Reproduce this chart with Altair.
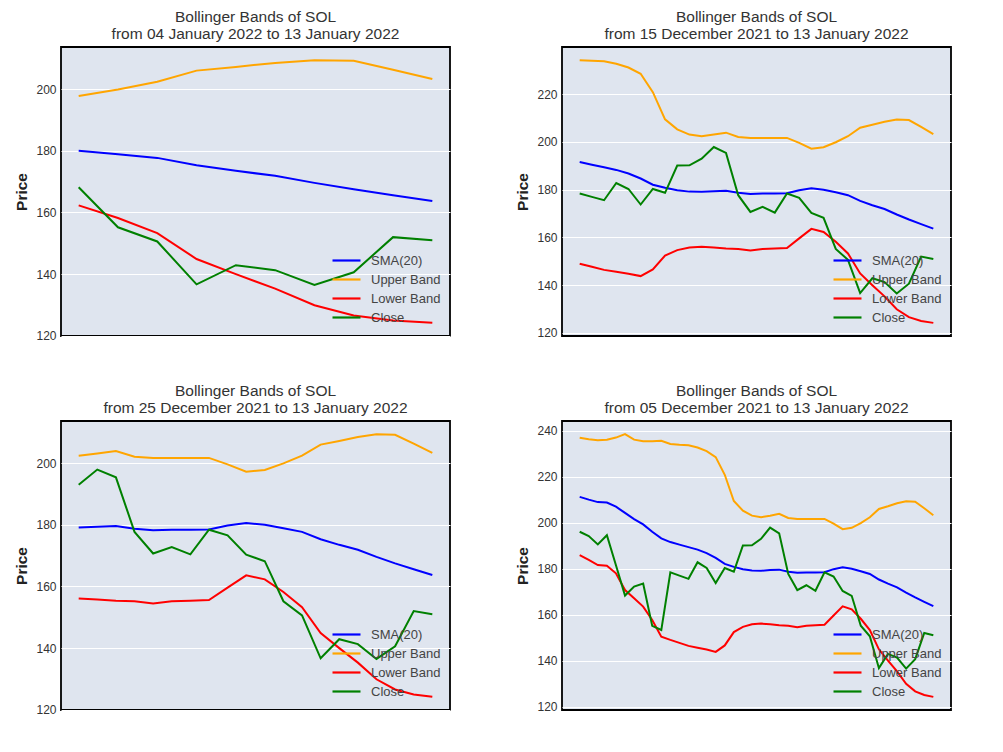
import altair as alt
import pandas as pd

# Daily data, 05 Dec 2021 .. 13 Jan 2022 (40 days)
dates = pd.date_range("2021-12-05", "2022-01-13", freq="D")

close = [196.1, 194.2, 190.6, 194.6, 181.5, 168.3, 172.2, 173.5, 155.1, 153.3,
         178.4, 177.0, 175.6, 182.8, 180.3, 173.8, 180.3, 178.7, 190.1, 190.2,
         193.0, 197.9, 195.4, 177.7, 170.7, 172.8, 170.4, 178.4, 176.6, 170.3,
         168.2, 155.2, 150.6, 136.7, 142.9, 141.3, 136.5, 140.6, 152.0, 151.0]

sma20 = [211.3, 210.1, 209.0, 208.8, 207.0, 204.3, 201.6, 199.3, 196.1, 193.2,
         191.6, 190.5, 189.4, 188.3, 186.8, 184.7, 182.1, 180.8, 179.8, 179.2,
         179.1, 179.4, 179.6, 178.7, 178.2, 178.4, 178.4, 178.5, 179.8, 180.6,
         180.0, 178.9, 177.7, 175.3, 173.5, 171.9, 169.6, 167.5, 165.6, 163.7]

upper = [237.0, 236.4, 235.9, 236.2, 237.1, 238.6, 236.2, 235.5, 235.5, 235.7,
         234.3, 234.0, 233.8, 232.8, 231.2, 228.6, 220.9, 209.5, 205.3, 203.1,
         202.4, 203.1, 203.9, 202.1, 201.7, 201.7, 201.7, 201.7, 199.6, 197.2,
         197.8, 199.9, 202.4, 206.0, 207.2, 208.5, 209.4, 209.2, 206.3, 203.3]

lower = [185.9, 183.8, 181.6, 181.3, 178.0, 170.7, 167.1, 163.5, 157.7, 150.4,
         149.0, 147.7, 146.4, 145.6, 144.8, 143.8, 146.6, 152.4, 154.7, 155.8,
         156.1, 155.8, 155.4, 155.2, 154.5, 155.2, 155.4, 155.6, 159.6, 163.6,
         162.3, 158.2, 153.3, 144.9, 140.0, 135.3, 129.9, 126.6, 125.0, 124.2]

series_names = ["SMA(20)", "Upper Band", "Lower Band", "Close"]
series_colors = ["blue", "orange", "red", "green"]
panel_starts = ["2022-01-04", "2021-12-15", "2021-12-25", "2021-12-05"]
tick_values = [100, 120, 140, 160, 180, 200, 220, 240, 260]

FONT = "Liberation Sans"
BG = "#dfe5ef"

base = pd.DataFrame({"date": dates, "SMA(20)": sma20, "Upper Band": upper,
                     "Lower Band": lower, "Close": close})


def panel(start):
    sub = base[base["date"] >= pd.Timestamp(start)].reset_index(drop=True)
    sub["idx"] = range(len(sub))
    n = len(sub)
    long = sub.melt(id_vars=["date", "idx"], value_vars=series_names,
                    var_name="series", value_name="price")
    lo, hi = long["price"].min(), long["price"].max()
    pad = 0.05 * (hi - lo)
    ydom = [lo - pad, hi + pad]
    xdom = [-0.05 * (n - 1), (n - 1) * 1.05]
    ticks = [t for t in tick_values if ydom[0] <= t <= ydom[1]]
    d1 = sub["date"].iloc[0].strftime("%d %B %Y")
    d2 = sub["date"].iloc[-1].strftime("%d %B %Y")
    ch = alt.Chart(long).mark_line(strokeWidth=2, clip=True).encode(
        x=alt.X("idx:Q", scale=alt.Scale(domain=xdom, nice=False, zero=False), axis=None),
        y=alt.Y("price:Q", scale=alt.Scale(domain=ydom, nice=False, zero=False),
                axis=alt.Axis(title="Price", values=ticks, grid=True, gridColor="white",
                              gridWidth=1.2, ticks=False, domain=False, labelPadding=5,
                              labelFontSize=12, labelFont=FONT, labelColor="#333333",
                              titleFont=FONT, titleFontSize=15.5, titleFontWeight="bold",
                              titleColor="#222222", titlePadding=6)),
        color=alt.Color("series:N",
                        scale=alt.Scale(domain=series_names, range=series_colors),
                        legend=alt.Legend(title=None, orient="none", legendX=277, legendY=205,
                                          symbolType="M-2,0H2", symbolSize=196,
                                          symbolStrokeWidth=2.2, symbolFillColor="transparent",
                                          labelFontSize=13,
                                          labelFont=FONT, labelColor="#444444",
                                          labelOffset=16, rowPadding=3, padding=0)),
        order=alt.Order("order:Q"),
        detail="series:N",
    ).transform_calculate(
        order="indexof(%s, datum.series)" % str(series_names)
    ).properties(
        width=389, height=289,
        title=alt.TitleParams([f"Bollinger Bands of SOL", f"from {d1} to {d2}"],
                              font=FONT, fontSize=15.5, fontWeight="normal",
                              color="#333333", lineHeight=17, offset=5,
                              anchor="middle", frame="group"),
    )
    return ch


p = [panel(s) for s in panel_starts]
row1 = alt.hconcat(p[0], p[1], spacing=64).resolve_scale(color="independent", y="independent", x="independent").resolve_legend(color="independent")
row2 = alt.hconcat(p[2], p[3], spacing=64).resolve_scale(color="independent", y="independent", x="independent").resolve_legend(color="independent")
chart = alt.vconcat(row1, row2, spacing=39).resolve_scale(
    color="independent", y="independent", x="independent"
).resolve_legend(color="independent").properties(
    padding={"left": 6, "top": 0, "right": 5, "bottom": 5},
    background="white",
).configure_view(
    fill=BG, stroke="black", strokeWidth=1.8
)

chart.save("out.html", embed_options={"renderer": "svg", "actions": False})
